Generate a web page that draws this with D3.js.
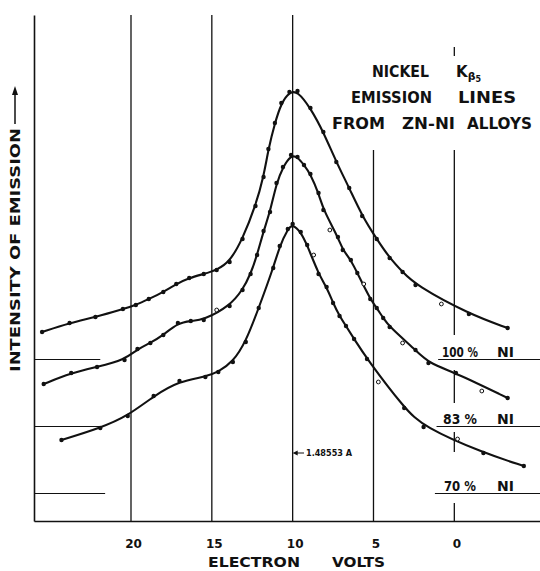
<!DOCTYPE html>
<html>
<head>
<meta charset="utf-8">
<script src="https://cdn.jsdelivr.net/npm/d3@7"></script>
<style>
  body { margin: 0; background: #fff; }
  text { font-family: "DejaVu Sans", sans-serif; fill: #111; font-weight: bold; }
</style>
</head>
<body>
<svg id="chart" width="540" height="571"></svg>
<script>
// electron volts, intensity (arbitrary units), 1 = open circle
var ni100 = [
  [25.5,37.8,0],[23.8,39.6,0],[22.2,40.8,0],[20.5,42.4,0],[19.7,43.2,0],[18.9,44.4,0],
  [18.0,45.8,0],[17.2,47.4,0],[16.4,48.6,0],[15.5,49.4,0],[14.7,50.2,0],[13.9,51.8,0],
  [13.1,56.4,0],[12.3,63.0,0],[11.8,68.8,0],[11.5,74.4,0],[11.1,79.6,0],[10.7,83.6,0],
  [10.2,85.8,0],[9.7,86.0,0],[8.9,82.6,0],[8.1,77.8,0],[7.3,71.8,0],[6.5,66.6,0],
  [5.7,61.0,0],[4.8,56.4,0],[4.0,52.6,0],[3.2,49.8,0],[2.4,47.2,0],[0.8,43.4,1],
  [-0.9,41.4,0],[-3.3,38.6,0]
]
var ni83 = [
  [25.4,27.4,0],[23.7,29.6,0],[22.1,30.8,0],[20.4,32.2,0],[19.6,34.4,0],[18.8,35.6,0],
  [18.0,37.2,0],[17.1,39.6,0],[16.3,40.0,0],[15.5,40.2,0],[14.7,42.2,1],[13.9,43.0,0],
  [13.1,46.2,0],[12.6,49.4,0],[12.2,53.2,0],[11.8,58.0,0],[11.4,61.8,0],[11.0,67.6,0],
  [10.6,70.8,0],[10.1,73.2,0],[9.7,72.8,0],[9.3,71.2,0],[8.9,69.4,0],[8.4,65.6,0],
  [8.1,62.2,0],[7.7,58.2,1],[7.2,56.8,0],[6.9,54.2,0],[6.4,52.2,0],[6.0,49.6,0],
  [5.6,47.4,1],[5.2,44.4,0],[4.8,42.6,0],[4.4,40.6,0],[4.0,38.8,0],[3.2,35.6,1],
  [2.4,34.2,0],[1.6,31.6,0],[-0.1,29.6,0],[-1.7,26.0,1],[-3.3,24.6,0]
]
var ni70 = [
  [24.3,16.2,0],[21.9,18.6,0],[20.2,21.0,0],[18.6,25.0,0],[17.0,28.0,0],[15.4,28.8,0],
  [14.6,29.8,0],[13.7,31.8,0],[12.9,35.8,0],[12.1,42.6,0],[11.2,50.6,0],[10.8,55.0,0],
  [10.3,58.4,0],[10.0,59.4,0],[9.5,57.8,0],[9.1,55.2,0],[8.7,53.2,1],[8.4,49.4,0],
  [7.9,46.8,0],[7.5,43.6,0],[7.1,41.0,0],[6.7,39.0,0],[6.2,36.4,0],[5.4,32.4,0],
  [4.7,27.8,1],[3.1,22.6,0],[1.9,18.8,0],[-0.2,16.4,1],[-1.8,13.6,0],[-4.3,11.0,0]
]
var series = [ni100, ni83, ni70]
var seriesLabels = ['100 %', '83 %', '70 %']
var baselines = [32.3, 18.9, 5.5]
var xTicks = [20, 15, 10, 5, 0]

var svg = d3.select('#chart')
var x = d3.scaleLinear().domain([26, -5.3]).range([34, 540])
var y = d3.scaleLinear().domain([0, 101.2]).range([521, 15])

var ink = '#111'

// vertical grid lines
var grid = svg.append('g').attr('stroke', ink).attr('stroke-width', 1.3)
;[20, 15, 10].forEach(function(v) {
  grid.append('line').attr('x1', x(v)).attr('x2', x(v)).attr('y1', y(101.2)).attr('y2', y(0))
})
grid.append('line').attr('x1', x(5)).attr('x2', x(5)).attr('y1', y(74.2)).attr('y2', y(0))
// the 0 V line is broken around the labels
;[[94.8, 93], [74.2, 37.2], [30.2, 23.6], [17.8, 13.8], [3.6, 0]].forEach(function(s) {
  grid.append('line').attr('x1', x(0)).attr('x2', x(0)).attr('y1', y(s[0])).attr('y2', y(s[1]))
})

// axes
var xAxis = svg.append('g')
  .attr('transform', 'translate(0,' + y(0) + ')')
  .call(d3.axisBottom(x).tickValues(xTicks).tickSize(0).tickSizeOuter(0).tickPadding(18))
xAxis.select('.domain').attr('stroke', ink).attr('stroke-width', 1.6)
xAxis.selectAll('text')
  .attr('dx', 2)
  .style('font-size', '12px')
  .style('font-family', '"DejaVu Sans", sans-serif')
  .style('font-weight', 'bold')
  .attr('fill', ink)

var yAxis = svg.append('g')
  .attr('transform', 'translate(' + x(26) + ',0)')
  .call(d3.axisLeft(y).ticks(0).tickSizeOuter(0))
yAxis.select('.domain').attr('stroke', ink).attr('stroke-width', 1.6)

// zero levels of each curve, left and right
var base = svg.append('g').attr('stroke', ink).attr('stroke-width', 1)
var leftEnds = [21.9, 21.9, 21.6]
var rightStarts = [1.0, 1.1, 1.2]
baselines.forEach(function(b, i) {
  base.append('line').attr('x1', x(26)).attr('x2', x(leftEnds[i])).attr('y1', y(b)).attr('y2', y(b))
  base.append('line').attr('x1', x(rightStarts[i])).attr('x2', x(-5.3)).attr('y1', y(b)).attr('y2', y(b))
})

// curves
var line = d3.line()
  .x(function(d) { return x(d[0]) })
  .y(function(d) { return y(d[1]) })
  .curve(d3.curveBasis)

series.forEach(function(s) {
  svg.append('path')
    .datum(s.filter(function(d) { return !d[2] }))
    .attr('fill', 'none')
    .attr('stroke', ink)
    .attr('stroke-width', 2.1)
    .attr('d', line)

  svg.append('g').selectAll('circle')
    .data(s)
    .enter()
    .append('circle')
    .attr('cx', function(d) { return x(d[0]) })
    .attr('cy', function(d) { return y(d[1]) })
    .attr('r', function(d) { return d[2] ? 1.9 : 2.2 })
    .attr('fill', function(d) { return d[2] ? '#fff' : ink })
    .attr('stroke', ink)
    .attr('stroke-width', function(d) { return d[2] ? 1 : 0 })
})

// series labels
var labelX = [[442, 36], [443, 34], [444, 32]]
seriesLabels.forEach(function(t, i) {
  svg.append('text')
    .attr('x', labelX[i][0]).attr('y', y(baselines[i]) - 3)
    .attr('textLength', labelX[i][1]).attr('lengthAdjust', 'spacingAndGlyphs')
    .style('font-size', '14px')
    .text(t)
  svg.append('text')
    .attr('x', 497).attr('y', y(baselines[i]) - 3)
    .attr('textLength', 17).attr('lengthAdjust', 'spacingAndGlyphs')
    .style('font-size', '14px')
    .text('NI')
})

// title
function word(t, x0, w, yb, fs) {
  return svg.append('text')
    .attr('x', x0).attr('y', yb)
    .attr('textLength', w).attr('lengthAdjust', 'spacingAndGlyphs')
    .style('font-size', fs + 'px')
    .text(t)
}
word('NICKEL', 372, 57, 77, 15)
var k = svg.append('text').attr('x', 456).attr('y', 77).style('font-size', '15px')
k.append('tspan').text('K')
k.append('tspan').attr('dy', 3).style('font-size', '11px').text('β')
k.append('tspan').attr('dy', 2).style('font-size', '8px').text('5')
word('EMISSION', 351, 81, 103, 15)
word('LINES', 458, 58, 103, 15)
word('FROM', 332, 53, 129, 15)
word('ZN-NI', 402, 53, 129, 15)
word('ALLOYS', 467, 65, 129, 15)

// x axis title
word('ELECTRON', 208, 92, 567, 14)
word('VOLTS', 332, 53, 567, 14)

// y axis title with arrow
svg.append('text')
  .attr('transform', 'translate(20,372) rotate(-90)')
  .attr('textLength', 244).attr('lengthAdjust', 'spacingAndGlyphs')
  .style('font-size', '14px')
  .text('INTENSITY OF EMISSION')
svg.append('line')
  .attr('x1', 15).attr('x2', 15).attr('y1', 124).attr('y2', 92)
  .attr('stroke', ink).attr('stroke-width', 1.5)
svg.append('path')
  .attr('d', 'M15,86 L12,95 L18,95 Z')
  .attr('fill', ink)

// wavelength marker at the 10 V line
svg.append('line')
  .attr('x1', 304).attr('x2', x(10) + 4).attr('y1', 453).attr('y2', 453)
  .attr('stroke', ink).attr('stroke-width', 1)
svg.append('path')
  .attr('d', 'M' + x(10) + ',453 l5,-2.5 l0,5 Z')
  .attr('fill', ink)
word('1.48553  A', 306, 46, 456, 8)
</script>
</body>
</html>
